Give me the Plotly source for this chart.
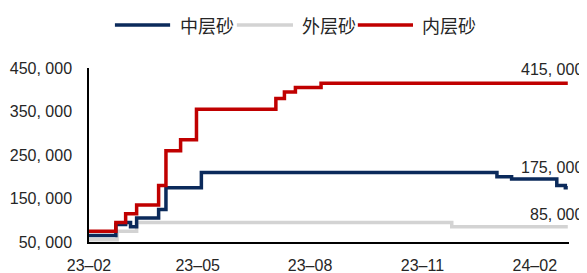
import plotly.graph_objects as go

# ---- data (change points, step series) ----
mid_dates = ["2023-02-01", "2023-02-23", "2023-03-03", "2023-03-07", "2023-03-12",
             "2023-03-30", "2023-04-05", "2023-05-04", "2024-01-01", "2024-01-13",
             "2024-02-19", "2024-02-26", "2024-02-28"]
mid_vals = [65000, 90000, 95000, 85000, 105000, 125000, 175000, 210000, 200000, 195000,
            180000, 175000, 175000]

out_dates = ["2023-02-01", "2023-02-24", "2023-03-12", "2023-11-25", "2024-02-28"]
out_vals = [55000, 75000, 95000, 85000, 85000]

in_dates = ["2023-02-01", "2023-02-23", "2023-03-03", "2023-03-12", "2023-03-30",
            "2023-04-05", "2023-04-17", "2023-04-30", "2023-07-04", "2023-07-11",
            "2023-07-20", "2023-08-10", "2024-02-28"]
in_vals = [75000, 95000, 115000, 135000, 180000, 260000, 285000, 355000, 380000, 395000,
           405000, 415000, 415000]

series_names = ["中层砂", "外层砂", "内层砂"]
y_tickvals = [50000, 150000, 250000, 350000, 450000]
y_ticktext = ["50, 000", "150, 000", "250, 000", "350, 000", "450, 000"]
x_tickvals = ["2023-02-01", "2023-05-01", "2023-08-01", "2023-11-01", "2024-02-01"]
x_ticktext = ["23–02", "23–05", "23–08", "23–11", "24–02"]

colors = ["#0B2A5B", "#D3D3D3", "#C00000"]
FONT = "Liberation Sans, Arial, Noto Sans CJK SC, sans-serif"
CJK = "Noto Sans CJK SC, sans-serif"

fig = go.Figure()
# draw order: gray at back, then blue, then red
for idx, (d, v) in [(1, (out_dates, out_vals)), (0, (mid_dates, mid_vals)), (2, (in_dates, in_vals))]:
    fig.add_trace(go.Scatter(x=d, y=v, mode="lines", name=series_names[idx],
                             line=dict(color=colors[idx], width=3.5, shape="hv"),
                             showlegend=False))

# end-value labels
def fmt(v):
    return f"{v:,}".replace(",", ", ")

for vals, ysh in [(in_vals, 14), (mid_vals, 20), (out_vals, 12)]:
    fig.add_annotation(xref="paper", yref="y", x=1.033, y=vals[-1], text=fmt(vals[-1]),
                       xanchor="right", yanchor="middle", yshift=ysh, showarrow=False,
                       font=dict(family=FONT, size=16, color="#262626"))

# custom legend
leg = [(0.054, 0.169, 0.185), (0.308, 0.425, 0.440), (0.560, 0.675, 0.690)]
for i, (x0, x1, xt) in enumerate(leg):
    fig.add_shape(type="line", xref="paper", yref="paper", x0=x0, x1=x1, y0=1.247, y1=1.247,
                  line=dict(color=colors[i], width=3.5))
    fig.add_annotation(xref="paper", yref="paper", x=xt, y=1.247, text=series_names[i],
                       xanchor="left", yanchor="middle", showarrow=False,
                       font=dict(family=CJK, size=18, color="#262626"))

# page body has an 8px margin, so the figure is drawn 8px smaller and offset
fig.update_layout(
    width=579, height=265,
    margin=dict(l=81, r=18, t=60, b=31),
    paper_bgcolor="white", plot_bgcolor="white",
    showlegend=False,
    font=dict(family=FONT, size=16, color="#262626"),
)
fig.update_xaxes(type="date", range=["2023-02-01", "2024-02-29"],
                 tickvals=x_tickvals, ticktext=x_ticktext, automargin=False,
                 showgrid=False, zeroline=False, showline=True, linecolor="black", linewidth=1.5,
                 ticks="", ticklabelstandoff=8, tickfont=dict(size=16))
fig.update_yaxes(range=[50000, 450000], tickvals=y_tickvals, ticktext=y_ticktext,
                 automargin=False,
                 showgrid=False, zeroline=False, showline=True, linecolor="black", linewidth=1.5,
                 ticks="", ticklabelstandoff=12, tickfont=dict(size=16))

fig.write_html("out.html")
